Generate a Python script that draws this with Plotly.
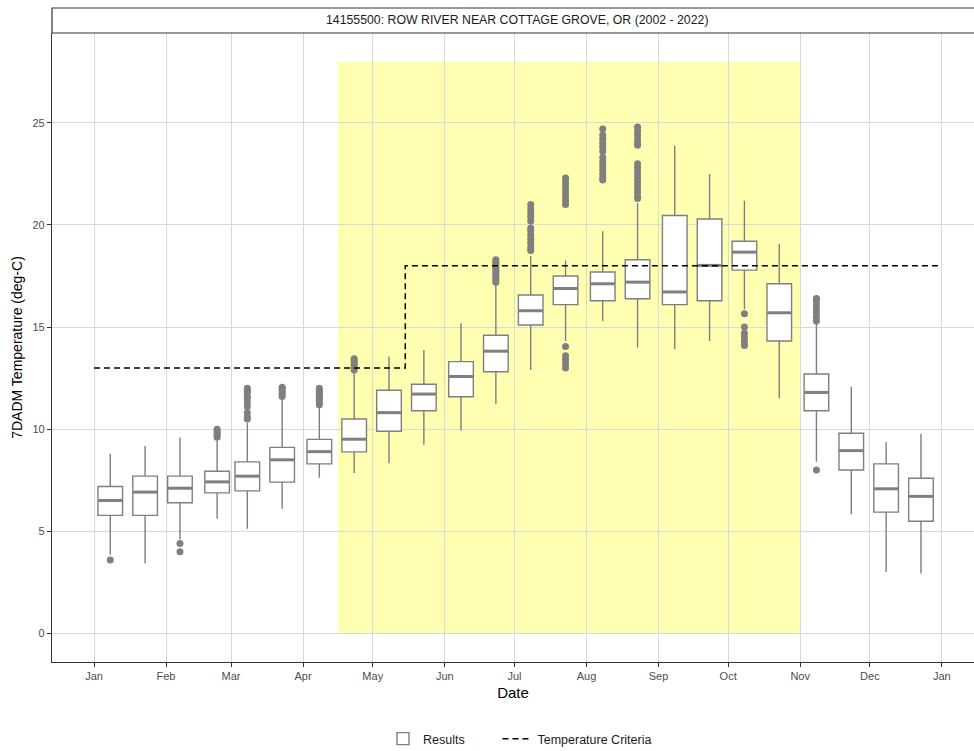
import plotly.graph_objects as go

# ---------------- data ----------------
box_dates = [
    "2022-01-08", "2022-01-23", "2022-02-07", "2022-02-23",
    "2022-03-08", "2022-03-23", "2022-04-08", "2022-04-23",
    "2022-05-08", "2022-05-23", "2022-06-08", "2022-06-23",
    "2022-07-08", "2022-07-23", "2022-08-08", "2022-08-23",
    "2022-09-08", "2022-09-23", "2022-10-08", "2022-10-23",
    "2022-11-08", "2022-11-23", "2022-12-08", "2022-12-23",
]
lower_whisker = [3.85, 3.42, 4.6, 5.62, 5.13, 6.10, 7.62, 7.85, 8.33, 9.24, 9.93, 11.23,
                 12.9, 14.32, 15.3, 14.0, 13.92, 14.32, 15.87, 11.52, 8.4, 5.83, 3.01, 2.93]
q1_vals = [5.78, 5.78, 6.40, 6.88, 6.98, 7.41, 8.30, 8.89, 9.90, 10.90, 11.59, 12.81,
           15.10, 16.10, 16.29, 16.39, 16.10, 16.29, 17.79, 14.32, 10.90, 8.00, 5.94, 5.49]
median_vals = [6.51, 6.92, 7.11, 7.42, 7.70, 8.50, 8.90, 9.51, 10.81, 11.72, 12.58, 13.82,
               15.80, 16.89, 17.12, 17.20, 16.72, 18.02, 18.67, 15.70, 11.80, 8.95, 7.08, 6.71]
q3_vals = [7.19, 7.70, 7.70, 7.94, 8.40, 9.11, 9.50, 10.50, 11.91, 12.20, 13.31, 14.60,
           16.57, 17.50, 17.70, 18.30, 20.46, 20.29, 19.20, 17.12, 12.70, 9.80, 8.30, 7.60]
upper_whisker = [8.79, 9.18, 9.59, 9.44, 10.30, 11.50, 11.10, 12.86, 13.56, 13.88, 15.19, 17.17,
                 18.47, 18.26, 19.69, 21.08, 23.88, 22.49, 21.19, 19.07, 15.20, 12.08, 9.36, 9.77]

outlier_dates = (
    ["2022-01-08"]
    + ["2022-02-07"] * 2
    + ["2022-02-23"] * 5
    + ["2022-03-08"] * 10
    + ["2022-03-23"] * 6
    + ["2022-04-08"] * 9
    + ["2022-04-23"] * 7
    + ["2022-06-23"] * 12
    + ["2022-07-08"] * 12
    + ["2022-07-23"] * 13
    + ["2022-08-08"] * 13
    + ["2022-08-23"] * 16
    + ["2022-10-08"] * 6
    + ["2022-11-08"] * 8
)
outlier_values = (
    [3.6]
    + [4.4, 4.0]
    + [9.6, 9.7, 9.8, 9.9, 10.0]
    + [10.5, 10.6, 10.8, 11.1, 11.3, 11.5, 11.6, 11.8, 11.9, 12.0]
    + [11.6, 11.7, 11.8, 11.9, 12.0, 12.05]
    + [11.2, 11.3, 11.4, 11.5, 11.6, 11.7, 11.8, 11.9, 12.0]
    + [12.9, 13.0, 13.1, 13.2, 13.3, 13.4, 13.45]
    + [17.2, 17.3, 17.4, 17.5, 17.6, 17.7, 17.8, 17.9, 18.0, 18.1, 18.2, 18.3]
    + [18.75, 18.9, 19.1, 19.3, 19.5, 19.7, 19.85, 20.2, 20.4, 20.6, 20.8, 21.0]
    + [21.0, 21.2, 21.4, 21.6, 21.8, 22.0, 22.2, 22.3, 14.05, 13.6, 13.4, 13.2, 13.0]
    + [24.7, 24.4, 24.2, 24.0, 23.8, 23.6, 23.3, 23.1, 22.9, 22.7, 22.5, 22.3, 22.2]
    + [24.8, 24.6, 24.4, 24.2, 24.0, 23.9, 23.0, 22.8, 22.6, 22.4, 22.2, 22.0, 21.8, 21.6, 21.4, 21.3]
    + [15.65, 15.0, 14.7, 14.5, 14.3, 14.1]
    + [15.3, 15.5, 15.7, 15.9, 16.1, 16.3, 16.4, 8.0]
)

criteria_dates = ["2022-01-01", "2022-05-15", "2022-12-31"]
criteria_values = [13, 18, 18]

season_start = "2022-04-16"
season_end = "2022-11-01"
season_top = 28

title_text = "14155500: ROW RIVER NEAR COTTAGE GROVE, OR (2002 - 2022)"
y_ticks = [0, 5, 10, 15, 20, 25]
legend_results = "Results"
legend_criteria = "Temperature Criteria"

# ---------------- figure ----------------
FONT = "Liberation Sans, Arial, sans-serif"
GREY = "#7f7f7f"
DAY_MS = 86400000
NBSP = "\u00a0"

fig = go.Figure()

fig.add_trace(go.Box(
    x=box_dates, q1=q1_vals, median=median_vals, q3=q3_vals,
    lowerfence=lower_whisker, upperfence=upper_whisker,
    name=legend_results + NBSP * 8, boxpoints=False, whiskerwidth=0,
    width=10.6 * DAY_MS,
    fillcolor="white", line=dict(color=GREY, width=1.4),
    showlegend=True,
))

fig.add_trace(go.Scatter(
    x=box_dates, y=median_vals, mode="markers",
    marker=dict(symbol="line-ew", size=17, line=dict(color=GREY, width=3)),
    showlegend=False, hoverinfo="skip",
))

fig.add_trace(go.Scatter(
    x=outlier_dates, y=outlier_values, mode="markers",
    marker=dict(symbol="circle", size=7, color=GREY),
    showlegend=False,
))

fig.add_trace(go.Scatter(
    x=criteria_dates, y=criteria_values, mode="lines",
    line=dict(color="black", width=1.5, dash="6px,4px", shape="hv"),
    name=legend_criteria,
))

fig.add_shape(
    type="rect", xref="x", yref="y",
    x0=season_start, x1=season_end, y0=0, y1=season_top,
    fillcolor="rgba(255,255,0,0.3)", line=dict(width=0), layer="below",
)

# facet strip
fig.add_shape(
    type="rect", xref="paper", yref="paper",
    x0=0, x1=1.06, y0=1.0, y1=1.0 + 25 / 629,
    fillcolor="white", line=dict(color="#333333", width=1.2),
)
fig.add_annotation(
    text=title_text, xref="paper", yref="paper",
    x=465 / 922, y=1.0 + 12.5 / 629, showarrow=False,
    font=dict(family=FONT, size=12.3, color="#1a1a1a"),
    xanchor="center", yanchor="middle",
)

fig.update_layout(
    width=974, height=751,
    margin=dict(l=52, r=0, t=33, b=89),
    paper_bgcolor="white", plot_bgcolor="white",
    font=dict(family=FONT, color="#1a1a1a"),
    showlegend=True,
    legend=dict(
        orientation="h", xref="paper", x=0.5 + 7 / 922, xanchor="center",
        yref="container", y=12 / 751, yanchor="middle",
        font=dict(family=FONT, size=12.5, color="#1a1a1a"),
        bgcolor="rgba(0,0,0,0)",
    ),
)

fig.update_xaxes(
    type="date",
    range=["2021-12-13T22:00:00", "2023-01-14T20:00:00"],
    dtick="M1", tick0="2022-01-01", tickformat="%b",
    showgrid=True, gridcolor="#d9d9d9", gridwidth=1.2,
    showline=True, linecolor="#333333", linewidth=1.2,
    ticks="outside", ticklen=4, tickcolor="#333333", tickwidth=1,
    tickfont=dict(family=FONT, size=11, color="#4d4d4d"),
    title=dict(text="Date", font=dict(family=FONT, size=15, color="black"), standoff=6),
    zeroline=False, automargin=False,
)
fig.update_yaxes(
    range=[-1.4, 29.4],
    tickvals=y_ticks,
    showgrid=True, gridcolor="#d9d9d9", gridwidth=1.2,
    showline=True, linecolor="#333333", linewidth=1.2,
    ticks="outside", ticklen=4, tickcolor="#333333", tickwidth=1,
    tickfont=dict(family=FONT, size=11, color="#4d4d4d"),
    title=dict(text="7DADM Temperature (deg-C)", font=dict(family=FONT, size=14, color="black"), standoff=6),
    zeroline=False, automargin=False,
)

fig.write_html("out.html")
